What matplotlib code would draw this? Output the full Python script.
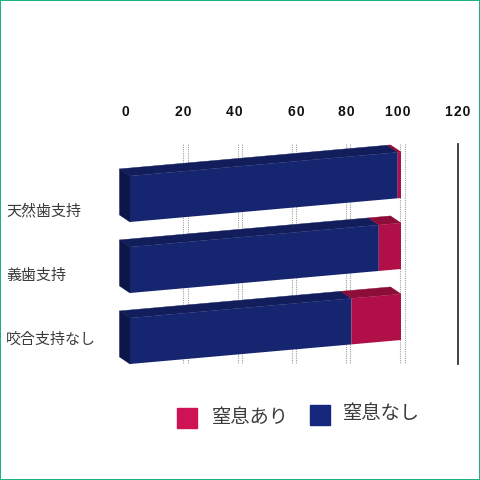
import matplotlib.pyplot as plt
from matplotlib.patches import Rectangle
from matplotlib.transforms import Affine2D

plt.rcParams['font.family'] = ['Noto Sans CJK JP', 'DejaVu Sans']

categories = ["天然歯支持", "義歯支持", "咬合支持なし"]
no_choke = [98.8, 91.8, 81.7]
choke = [1.2, 8.2, 18.3]
ticks = [0, 20, 40, 60, 80, 100, 120]
tick_labels = ["0", "20", "40", "60", "80", "100", "120"]
legend_labels = ["窒息あり", "窒息なし"]

PX_PER_X = 2.71
PX_PER_ROW = 71.0
BAR_HEIGHT = 46 / PX_PER_ROW
DX = -10.5 / PX_PER_X
DY = -8 / PX_PER_ROW
SKEW = -0.24 / PX_PER_ROW  # bars climb to the right

NAVY, NAVY_TOP, NAVY_SIDE = "#16256f", "#121d5c", "#0c1648"
RED, RED_TOP = "#b01047", "#8c0d38"


def top_face(ax, left, right, row, color, tr):
    top = row - BAR_HEIGHT / 2
    ax.fill([left, right, right + DX, left + DX],
            [top, top, top + DY, top + DY],
            color=color, lw=0.3, transform=tr, zorder=3)


def main():
    fig = plt.figure(figsize=(4.8, 4.8), dpi=100)
    ax = fig.add_axes([0, 0, 1, 1])
    ax.axis("off")
    ax.set_xlim(-130 / PX_PER_X, 350 / PX_PER_X)
    ax.set_ylim((480 - 199) / PX_PER_ROW, -199 / PX_PER_ROW)

    grid_top = -55 / PX_PER_ROW
    grid_bottom = 165 / PX_PER_ROW

    # doubled dotted gridlines, the second one sits on the back wall
    for t in ticks[1:-1]:
        for shift in [-0.3, 1.3]:
            ax.plot([t + shift, t + shift], [grid_top, grid_bottom], color="#a0a0a0",
                    lw=0.8, ls=(0, (1, 1)), zorder=1)
    ax.plot([121, 121], [grid_top, grid_bottom], color="#333333", lw=1.3, zorder=1)

    # tick labels are not evenly placed in the original
    nudges = [-1.7, -0.2, -1.5, 1.2, 0, -1.2, 1.0]
    for t, lab, n in zip(ticks, tick_labels, nudges):
        ax.text(t + n, -86.5 / PX_PER_ROW, "\u200a".join(lab), ha="center", va="center",
                fontsize=10, fontweight="bold", family=["Liberation Sans", "DejaVu Sans"],
                color="#111111")

    shear = Affine2D.from_values(1, SKEW, 0, 1, 0, 0) + ax.transData

    for row in range(len(categories)):
        a = no_choke[row]
        b = choke[row]
        top_face(ax, 0, a, row, NAVY_TOP, shear)
        top_face(ax, a, a + b, row, RED_TOP, shear)
        top = row - BAR_HEIGHT / 2
        bottom = row + BAR_HEIGHT / 2
        ax.fill([0, 0, DX, DX], [top, bottom, bottom + DY, top + DY],
                color=NAVY_SIDE, lw=0.3, transform=shear, zorder=3)
        ax.barh(row, a, height=BAR_HEIGHT, color=NAVY, lw=0, transform=shear, zorder=4)
        ax.barh(row, b, left=a, height=BAR_HEIGHT, color=RED, lw=0, transform=shear, zorder=4)

    # restore limits touched by barh
    ax.set_xlim(-130 / PX_PER_X, 350 / PX_PER_X)
    ax.set_ylim((480 - 199) / PX_PER_ROW, -199 / PX_PER_ROW)

    for cat, y in zip(categories, [211, 276, 340]):
        fig.text(6 / 480, 1 - y / 480, cat, fontsize=10.8, color="#3c3c3c", va="center")

    # legend, the two entries are not on one line
    fig.patches.append(Rectangle((177 / 480, 1 - 428 / 480), 20 / 480, 20 / 480,
                                 color="#cf1254", transform=fig.transFigure, figure=fig))
    fig.patches.append(Rectangle((310 / 480, 1 - 424.5 / 480), 20 / 480, 20 / 480,
                                 color="#16277e", transform=fig.transFigure, figure=fig))
    fig.text(212 / 480, 1 - 417 / 480, legend_labels[0], fontsize=13.9, color="#3c3c3c", va="center")
    fig.text(343 / 480, 1 - 414 / 480, legend_labels[1], fontsize=13.9, color="#3c3c3c", va="center")

    # thin green frame round the whole picture
    fig.patches.append(Rectangle((0, 0), 1, 1, fill=False, edgecolor="#1db37f", lw=1.44,
                                 transform=fig.transFigure, figure=fig))

    fig.savefig("out.png", dpi=100)


if __name__ == "__main__":
    main()
